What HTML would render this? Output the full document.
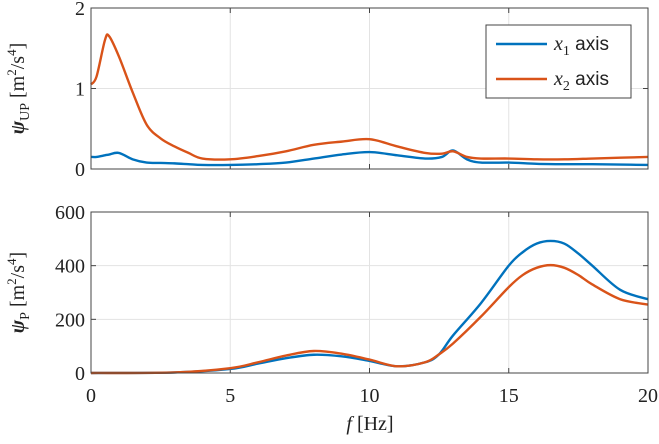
<!DOCTYPE html>
<html><head><meta charset="utf-8"><style>
body{margin:0;background:#fff}
svg text{font-family:"Liberation Serif",serif;fill:#222}
</style></head><body>
<svg id="c" width="659" height="439" xmlns="http://www.w3.org/2000/svg"></svg>
<script>
const xTicks=[0,5,10,15,20];
const topYTicks=[0,1,2];
const botYTicks=[0,200,400,600];
const topF=[0,0.2,0.5,0.65,1,1.5,2,2.5,3,3.5,4,5,6,7,8,9,10,11,12,12.6,13,13.5,14,15,16,17,18,19,20];
const topX1=[0.15,0.15,0.17,0.18,0.2,0.12,0.08,0.075,0.07,0.06,0.05,0.05,0.06,0.08,0.13,0.18,0.21,0.17,0.13,0.15,0.23,0.12,0.08,0.08,0.065,0.06,0.06,0.055,0.05];
const topX2=[1.05,1.15,1.6,1.65,1.4,0.95,0.55,0.38,0.28,0.2,0.13,0.12,0.16,0.22,0.3,0.34,0.37,0.28,0.2,0.19,0.22,0.15,0.13,0.13,0.12,0.12,0.13,0.14,0.15];
const botF=[0,3,5,6,7,8,9,10,11,12,12.5,13,14,15,15.5,16,16.5,17,17.5,18,19,20];
const botX1=[0,2,15,35,55,68,62,45,25,40,70,140,260,400,450,482,492,482,445,400,310,275];
const botX2=[0,2,18,40,65,82,72,50,25,40,70,110,210,320,365,392,402,392,365,330,275,255];
const svg=document.getElementById('c');const NS='http://www.w3.org/2000/svg';
function mk(t,a,p){const e=document.createElementNS(NS,t);for(const k in a)e.setAttribute(k,a[k]);(p||svg).appendChild(e);return e;}
const X0=91,X1=648;const sx=f=>X0+(f/20)*(X1-X0);
function path(fs,vs,sy){const p=fs.map((f,i)=>[sx(f),sy(vs[i])]);let d='M'+p[0][0]+','+p[0][1];
for(let i=0;i<p.length-1;i++){const a=p[i-1]||p[i],b=p[i],c=p[i+1],e=p[i+2]||c;
d+=` C${b[0]+(c[0]-a[0])/6},${b[1]+(c[1]-a[1])/6} ${c[0]-(e[0]-b[0])/6},${c[1]-(e[1]-b[1])/6} ${c[0]},${c[1]}`;}return d;}
function panel(name,yT,ymax,Y0,Y1,data,sub,showX){
 const sy=v=>Y1-(v/ymax)*(Y1-Y0);
 const g=mk('g',{});
 xTicks.forEach(t=>{const l=mk('line',{x1:sx(t),x2:sx(t),y1:Y0,y2:Y1,stroke:'#e3e3e3'},g);
  mk('line',{x1:sx(t),x2:sx(t),y1:Y1,y2:Y1-5,stroke:'#444'},g);mk('line',{x1:sx(t),x2:sx(t),y1:Y0,y2:Y0+5,stroke:'#444'},g);
  if(showX){const tx=mk('text',{x:sx(t),y:Y1+29,'text-anchor':'middle','font-size':20},g);tx.textContent=t;}});
 yT.forEach(t=>{mk('line',{x1:X0,x2:X1,y1:sy(t),y2:sy(t),stroke:'#e3e3e3'},g);
  mk('line',{x1:X0,x2:X0+5,y1:sy(t),y2:sy(t),stroke:'#444'},g);mk('line',{x1:X1,x2:X1-5,y1:sy(t),y2:sy(t),stroke:'#444'},g);
  const tx=mk('text',{x:X0-6,y:sy(t)+7,'text-anchor':'end','font-size':20},g);tx.textContent=t;});
 data.forEach(([vs,fs,col,n])=>{const p=mk('path',{d:path(fs,vs,sy),fill:'none',stroke:col,'stroke-width':2.4},g);});
 const b=mk('rect',{x:X0,y:Y0,width:X1-X0,height:Y1-Y0,fill:'none',stroke:'#444'},g);
 const cy=(Y0+Y1)/2;const yl=mk('text',{transform:`translate(24,${cy}) rotate(-90)`,'text-anchor':'middle','font-size':20},g);
 yl.innerHTML=`<tspan font-style="italic" font-weight="bold">ψ</tspan><tspan font-size="14" dy="5">${sub}</tspan><tspan dy="-5"> [m</tspan><tspan font-size="13" dy="-8">2</tspan><tspan dy="8">/s</tspan><tspan font-size="13" dy="-8">4</tspan><tspan dy="8">]</tspan>`;
 
}
panel('top-panel',topYTicks,2,8,169,[[topX1,topF,'#0072BD','line-x1-up'],[topX2,topF,'#D95319','line-x2-up']],'UP',false);
panel('bottom-panel',botYTicks,600,212,373,[[botX1,botF,'#0072BD','line-x1-p'],[botX2,botF,'#D95319','line-x2-p']],'P',true);
const xl=mk('text',{x:370,y:430,'text-anchor':'middle','font-size':20});xl.innerHTML='<tspan font-style="italic">f</tspan> [Hz]';

const lg=mk('g',{});
mk('rect',{x:486,y:25,width:145,height:73,fill:'#fff',stroke:'#444'},lg);
[['#0072BD','1',44],['#D95319','2',79]].forEach(([c,s,y])=>{const e=mk('line',{x1:496,x2:547,y1:y,y2:y,stroke:c,'stroke-width':2.4},lg);
 const t=mk('text',{x:554,y:y+6,'font-size':20},lg);t.innerHTML=`<tspan font-style="italic">x</tspan><tspan font-size="14" dy="5">${s}</tspan><tspan dy="-5" font-family="Liberation Sans" font-size="19"> axis</tspan>`;});
</script>
</body></html>
